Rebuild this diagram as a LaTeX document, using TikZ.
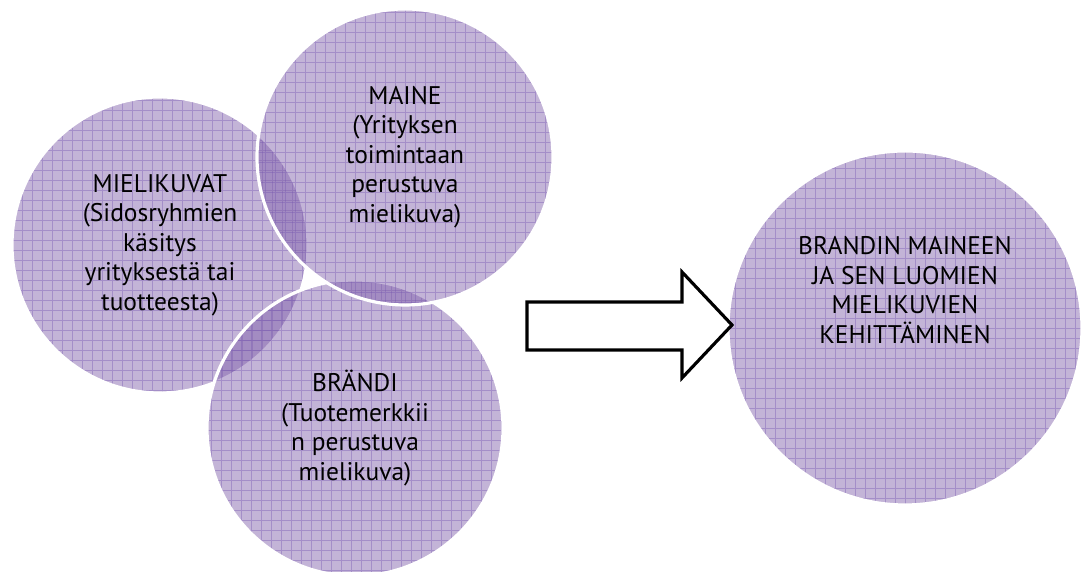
\documentclass[tikz,border=0pt]{standalone}
\usepackage{fontspec}
\setmainfont{PT Sans}
\usetikzlibrary{positioning}
\definecolor{kuplavari}{RGB}{128,96,170}
\definecolor{ruutuvari}{RGB}{118,86,178}
\tikzset{
  kupla/.style={circle,inner sep=0pt,align=center,fill=kuplavari,fill opacity=0.47,text opacity=1,
    draw=white,line width=1.8pt,
    path picture={\draw[ruutuvari,draw opacity=0.4,line width=0.55pt]
      (path picture bounding box.south west) grid[step=0.2] (path picture bounding box.north east);}},
  teksti/.style={align=center,inner sep=0pt},
}
\begin{document}
\begin{tikzpicture}[x=1cm,y=1cm,line join=miter,font=\fontsize{14.5}{16.8}\selectfont]
  \useasboundingbox (0,0) rectangle (21.64,11.44);
  \node[kupla,minimum size=5.92cm] (mielikuvat) at (3.20,6.54)
    {MIELIKUVAT\\(Sidosryhmien\\käsitys\\yrityksestä tai\\tuotteesta)};
  \node[kupla,minimum size=5.92cm] (brandi) at (7.10,2.88)
    {BRÄNDI\\(Tuotemerkkii\\n perustuva\\mielikuva)};
  \node[kupla,minimum size=5.92cm] (maine) at (8.10,8.30)
    {MAINE\\(Yrityksen\\toimintaan\\perustuva\\mielikuva)};
  \node[kupla,minimum size=7.08cm] (kehitys) at (18.10,4.88) {};
  \node[teksti,yshift=0.76cm] (kehitysteksti) at (kehitys.center)
    {BRANDIN MAINEEN\\JA SEN LUOMIEN\\MIELIKUVIEN\\KEHITTÄMINEN};
  % nuoli
  \draw[line width=1.8pt,fill=white] (10.54,5.40) -- (13.64,5.40) -- (13.64,6.00) -- (14.64,4.94)
    -- (13.64,3.88) -- (13.64,4.44) -- (10.54,4.44) -- cycle;
\end{tikzpicture}
\end{document}
